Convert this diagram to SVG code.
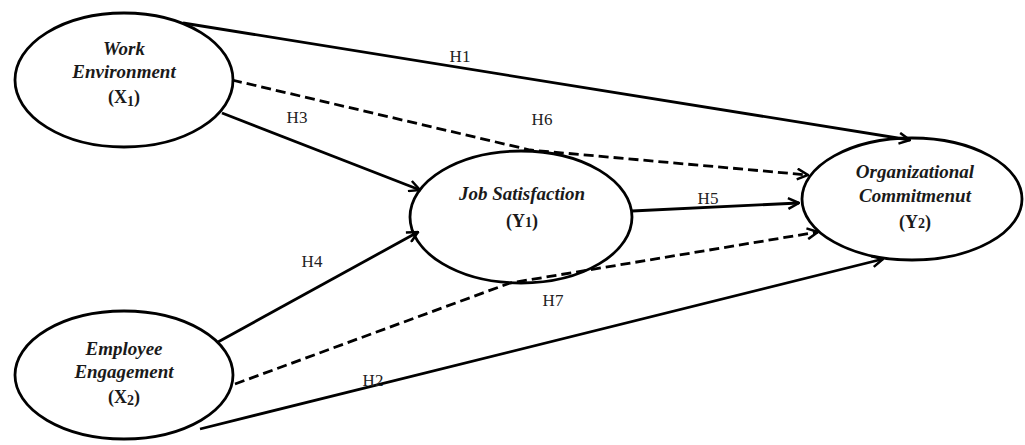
<svg xmlns="http://www.w3.org/2000/svg" width="1025" height="445" viewBox="0 0 1025 445">
<style>
.node{fill:#fff;stroke:#000;stroke-width:2.8}
.nt{font-family:"Liberation Serif","Times New Roman",serif;font-size:19px;font-weight:bold;font-style:italic;text-anchor:middle;fill:#1a1a1a}
.ns{font-family:"Liberation Serif","Times New Roman",serif;font-size:18px;font-weight:bold;text-anchor:middle;fill:#1a1a1a}
.lbl{font-family:"Liberation Serif","Times New Roman",serif;font-size:17px;text-anchor:middle;fill:#222}
.c{fill:none;stroke:#000;stroke-width:2.8;marker-end:url(#ah)}
.d{stroke-dasharray:10 5}
</style>
<defs>
<marker id="ah" viewBox="0 0 12 12" refX="11" refY="6" markerWidth="13" markerHeight="13" markerUnits="userSpaceOnUse" orient="auto">
<path d="M1,1 L11,6 L1,11" fill="none" stroke="#000" stroke-width="2.3"/>
</marker>
</defs>
<g id="work-environment">
<ellipse class="node" cx="124" cy="80" rx="109" ry="67"/>
<text class="nt" x="124" y="55">Work</text>
<text class="nt" x="124" y="78">Environment</text>
<text class="ns" x="124" y="103">(X<tspan font-size="14" dy="3">1</tspan><tspan dy="-3">)</tspan></text>
</g>
<g id="employee-engagement">
<ellipse class="node" cx="124" cy="375" rx="109" ry="64"/>
<text class="nt" x="124" y="355">Employee</text>
<text class="nt" x="124" y="378">Engagement</text>
<text class="ns" x="124" y="403">(X<tspan font-size="14" dy="2">2</tspan><tspan dy="-2">)</tspan></text>
</g>
<g id="job-satisfaction">
<ellipse class="node" cx="521" cy="217" rx="111" ry="66"/>
<text class="nt" x="522" y="200">Job Satisfaction</text>
<text class="ns" x="522" y="227">(Y<tspan font-size="14">1</tspan>)</text>
</g>
<g id="organizational-commitment">
<ellipse class="node" cx="912" cy="199" rx="110" ry="61"/>
<text class="nt" x="915" y="178">Organizational</text>
<text class="nt" x="915" y="202">Commitmenut</text>
<text class="ns" x="915" y="228">(Y<tspan font-size="14">2</tspan>)</text>
</g>
<g id="connectors">
<path class="c" d="M183,23 L910,140"/>
<path class="c d" d="M232,80 L530,150 L808,175"/>
<path class="c" d="M222,113 L420,190"/>
<path class="c" d="M632,211 L799,203"/>
<path class="c" d="M218,342 L418,232"/>
<path class="c d" d="M235,384 L510,283 L818,232"/>
<path class="c" d="M200,429 L883,259"/>
<text class="lbl" x="460" y="62">H1</text>
<text class="lbl" x="542" y="125">H6</text>
<text class="lbl" x="297" y="123">H3</text>
<text class="lbl" x="708" y="204">H5</text>
<text class="lbl" x="312" y="267">H4</text>
<text class="lbl" x="553" y="306">H7</text>
<text class="lbl" x="373" y="386">H2</text>
</g>
</svg>
